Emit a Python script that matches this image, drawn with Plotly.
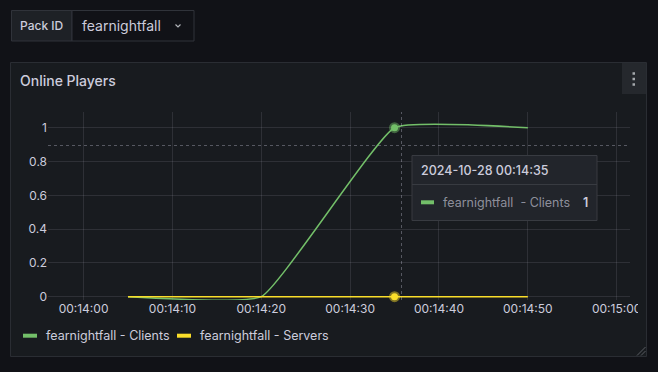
import plotly.graph_objects as go

# ---------------- data ----------------
times = ["2024-10-28 00:14:05", "2024-10-28 00:14:20", "2024-10-28 00:14:35", "2024-10-28 00:14:50"]
clients = [0, 0, 1, 1]
servers = [0, 0, 0, 0]
pack_id = "fearnightfall"
series_suffix = ["Clients", "Servers"]
series_colors = ["#73bf69", "#fade2a"]
x_tick_vals = ["2024-10-28 00:14:00", "2024-10-28 00:14:10", "2024-10-28 00:14:20",
               "2024-10-28 00:14:30", "2024-10-28 00:14:40", "2024-10-28 00:14:50",
               "2024-10-28 00:15:00"]
y_tick_vals = [0, 0.2, 0.4, 0.6, 0.8, 1]
x_range = ["2024-10-28 00:13:56", "2024-10-28 00:15:01.5"]
y_range = [-0.0195, 1.093]
hover_index = 2

# ---------------- layout helpers ----------------
W, H = 658, 372
L, R, T, B = 48, 630, 112, 300
BG = "#111217"
PANEL = "#181b1f"
TXT = "#ccccdc"
GRID = "rgba(204,204,220,0.12)"
FONT = "Inter"


def px(x):
    return (x - L) / (R - L)


def py(y):
    return (B - y) / (B - T)


fig = go.Figure()

series_values = [clients, servers]
for vals, suf, col in zip(series_values, series_suffix, series_colors):
    fig.add_trace(go.Scatter(
        x=times, y=vals, mode="lines", name=f"{pack_id} - {suf}",
        line=dict(color=col, width=1.5, shape="spline", smoothing=0.35),
        hoverinfo="skip"))

halo = ["rgba(115,191,105,0.45)", "rgba(250,222,42,0.45)"]
for vals, col, hc in zip(series_values, series_colors, halo):
    fig.add_trace(go.Scatter(
        x=[times[hover_index]], y=[vals[hover_index]], mode="markers",
        marker=dict(size=7, color=col, line=dict(width=4, color=hc)),
        hoverinfo="skip", cliponaxis=False))

shapes = []
# panel
shapes.append(dict(type="rect", xref="paper", yref="paper", layer="below",
                   x0=px(10.5), x1=px(646.5), y0=py(62.5), y1=py(356.5),
                   fillcolor=PANEL, line=dict(color="#2a2d33", width=1)))
# menu button
shapes.append(dict(type="rect", xref="paper", yref="paper", layer="below",
                   x0=px(622), x1=px(646), y0=py(63), y1=py(94),
                   fillcolor="#25282d", line=dict(width=0)))
for cy in (73.5, 79, 84.5):
    shapes.append(dict(type="rect", xref="paper", yref="paper", layer="below",
                       x0=px(632.5), x1=px(635), y0=py(cy - 1.25), y1=py(cy + 1.25),
                       fillcolor="#a5a8ad", line=dict(width=0)))
# variable picker
shapes.append(dict(type="rect", xref="paper", yref="paper", layer="below",
                   x0=px(11.5), x1=px(72), y0=py(10.5), y1=py(41),
                   fillcolor="#1e2126", line=dict(color="#30333a", width=1)))
shapes.append(dict(type="rect", xref="paper", yref="paper", layer="below",
                   x0=px(72), x1=px(194), y0=py(10.5), y1=py(41),
                   fillcolor=BG, line=dict(color="#30333a", width=1)))
shapes.append(dict(type="path", xref="paper", yref="paper", layer="below",
                   path=f"M {px(175.5)},{py(24.5)} L {px(178)},{py(27)} L {px(180.5)},{py(24.5)}",
                   line=dict(color="#b0b3b8", width=1.2)))
# resize handle
shapes.append(dict(type="line", xref="paper", yref="paper", layer="above",
                   x0=px(637), y0=py(355.5), x1=px(645.5), y1=py(347),
                   line=dict(color="#5a5d63", width=1)))
shapes.append(dict(type="line", xref="paper", yref="paper", layer="above",
                   x0=px(641), y0=py(355.5), x1=px(645.5), y1=py(351),
                   line=dict(color="#5a5d63", width=1)))
# clip last tick label
shapes.append(dict(type="rect", xref="paper", yref="paper", layer="above",
                   x0=px(638), x1=px(646), y0=py(302), y1=py(322),
                   fillcolor=PANEL, line=dict(width=0)))
# crosshair
shapes.append(dict(type="line", xref="paper", yref="paper", layer="above",
                   x0=px(401.5), x1=px(401.5), y0=0, y1=1,
                   line=dict(color="rgba(204,204,220,0.35)", width=1, dash="3px,3px")))
shapes.append(dict(type="line", xref="paper", yref="paper", layer="above",
                   x0=0, x1=1, y0=py(145.5), y1=py(145.5),
                   line=dict(color="rgba(204,204,220,0.35)", width=1, dash="3px,3px")))
# tooltip
shapes.append(dict(type="rect", xref="paper", yref="paper", layer="above",
                   x0=px(412), x1=px(597), y0=py(155.5), y1=py(220.5),
                   fillcolor="#22252b", line=dict(color="#383b41", width=1)))
shapes.append(dict(type="line", xref="paper", yref="paper", layer="above",
                   x0=px(412), x1=px(597), y0=py(184.5), y1=py(184.5),
                   line=dict(color="#383b41", width=1)))
shapes.append(dict(type="line", xref="paper", yref="paper", layer="above",
                   x0=px(421), x1=px(434), y0=py(202.3), y1=py(202.3),
                   line=dict(color=series_colors[0], width=4)))
# legend dashes
shapes.append(dict(type="line", xref="paper", yref="paper", layer="above",
                   x0=px(23), x1=px(37), y0=py(335.7), y1=py(335.7),
                   line=dict(color=series_colors[0], width=4)))
shapes.append(dict(type="line", xref="paper", yref="paper", layer="above",
                   x0=px(177), x1=px(191), y0=py(335.7), y1=py(335.7),
                   line=dict(color=series_colors[1], width=4)))

ann = []


def text(x, y, s, size, color=TXT, weight=400, anchor="left"):
    ann.append(dict(xref="paper", yref="paper", x=px(x), y=py(y), text=s,
                    showarrow=False, xanchor=anchor, yanchor="middle",
                    font=dict(family=FONT, size=size, color=color, weight=weight),
                    borderpad=0))


text(18.5, 80, "Online Players", 14, weight=500)
text(41.7, 25.8, "Pack ID", 12, weight=500, anchor="center")
text(80.5, 25.8, pack_id, 14)
hover_time = times[hover_index]
text(420.5, 170, hover_time, 12.5, weight=500)
text(441.5, 202.3, f"{pack_id}  - {series_suffix[0]}", 12.5, color="rgba(204,204,220,0.65)")
text(589, 202.3, f"{clients[hover_index]:g}", 12.5, weight=600, anchor="right")
text(44.5, 335.7, f"{pack_id} - {series_suffix[0]}", 12.5)
text(198.5, 335.7, f"{pack_id} - {series_suffix[1]}", 12.5)

fig.update_layout(
    width=W, height=H,
    margin=dict(l=L, r=W - R, t=T, b=H - B),
    paper_bgcolor=BG, plot_bgcolor="rgba(0,0,0,0)",
    showlegend=False, hovermode=False,
    shapes=shapes, annotations=ann,
    font=dict(family=FONT, size=12, color=TXT),
    xaxis=dict(type="date", range=x_range, tickvals=x_tick_vals, tickformat="%H:%M:%S",
               showgrid=True, gridcolor=GRID, gridwidth=1, zeroline=False, showline=False,
               tickfont=dict(family=FONT, size=12, color=TXT), ticks=""),
    yaxis=dict(range=y_range, tickvals=y_tick_vals, showgrid=True, gridcolor=GRID,
               gridwidth=1, zeroline=False, showline=False,
               tickfont=dict(family=FONT, size=12, color=TXT), ticks=""),
)

fig.write_html("out.html")
